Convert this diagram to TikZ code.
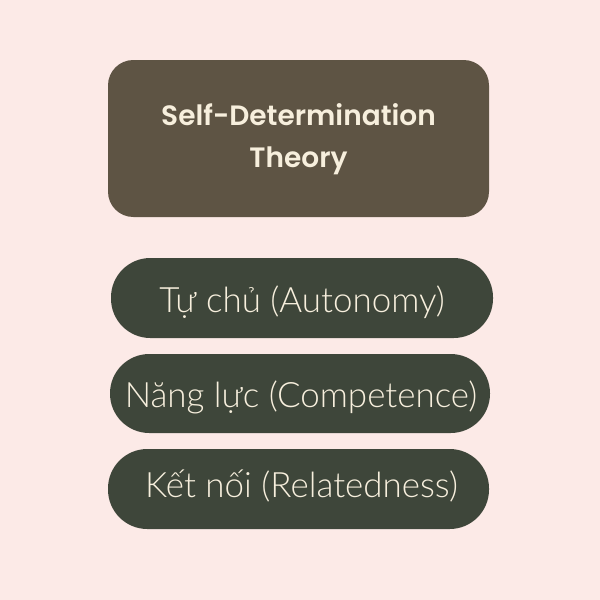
\documentclass[tikz,border=0pt]{standalone}
\usepackage{fontspec}
\newfontfamily\topfont{Poppins SemiBold}
\newfontfamily\pillfont{Lato Light}
\definecolor{bgpink}{HTML}{FCEAE7}
\definecolor{topbrown}{HTML}{5E5444}
\definecolor{pillgreen}{HTML}{3E463A}
\definecolor{cream}{HTML}{F7EFDD}
\begin{document}
\begin{tikzpicture}[x=0.75pt,y=-0.75pt,
  topbox/.style={fill=topbrown, rounded corners=19pt},
  pillbox/.style={fill=pillgreen, rounded corners=29.5pt},
  toptext/.style={text=cream, font=\topfont\fontsize{21}{31.5}\selectfont, align=center, anchor=base},
  pilltext/.style={text=cream, font=\pillfont\fontsize{26.2}{32}\selectfont, anchor=base}]
\fill[bgpink] (0,0) rectangle (600,600);
\useasboundingbox (0,0) rectangle (600,600);
\fill[topbox] (108,60) rectangle (489,217);
\node[toptext] (t1) at (298.5,125) {Self-Determination};
\node[toptext] (t2) at (298.5,167) {Theory};
\fill[pillbox] (111,258) rectangle (493,338);
\node[pilltext] (p1) at (302,312) {Tự chủ (Autonomy)};
\fill[pillbox] (110,354) rectangle (490,433);
\node[pilltext] (p2) at (301,407) {Năng lực (Competence)};
\fill[pillbox] (108,449) rectangle (489,529);
\node[pilltext] (p3) at (301.5,497) {Kết nối (Relatedness)};
\end{tikzpicture}
\end{document}
